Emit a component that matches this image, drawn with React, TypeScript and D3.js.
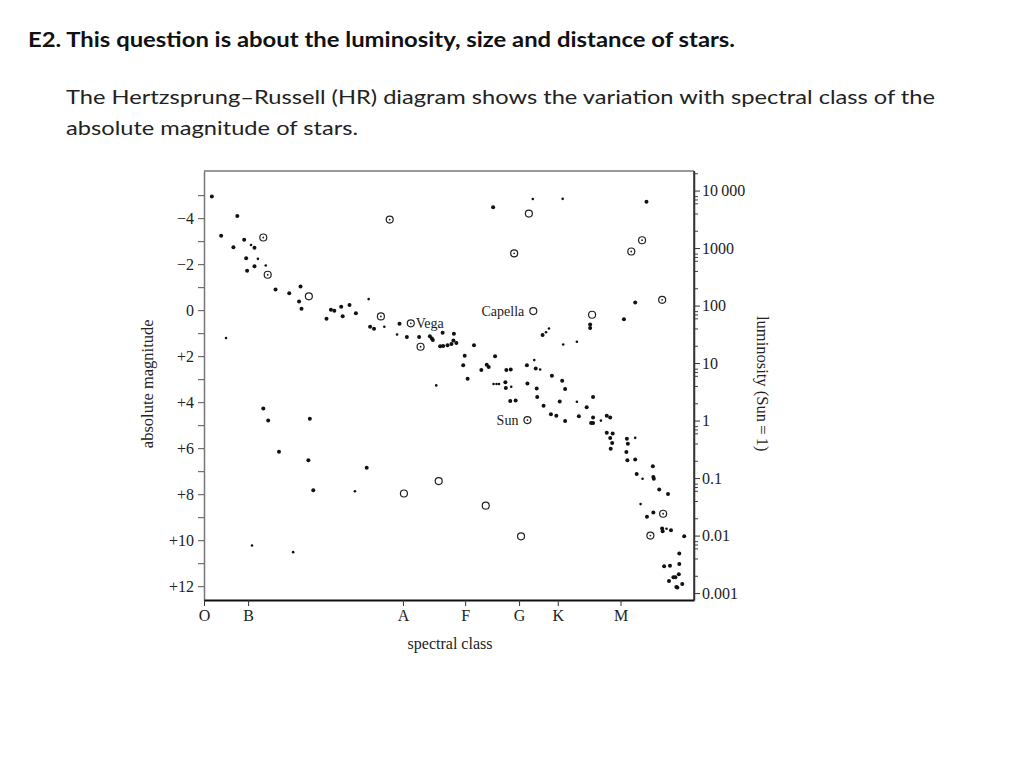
import React, { useRef, useEffect } from 'react';
import * as d3 from 'd3';

// star positions: [spectral position (O=0 .. right edge=100), absolute magnitude]
const filledStars: [number, number][] = [
  [1.6, -4.94], [6.8, -4.09], [3.5, -3.23], [6.0, -2.73], [8.2, -3.06], [10.3, -2.71],
  [8.6, -2.26], [10.3, -1.91], [8.8, -1.71], [14.6, -0.9], [17.4, -0.73], [19.7, -1.03],
  [19.4, -0.38], [19.9, -0.06], [25.0, 0.37], [25.9, -0.02], [26.6, 0.03], [28.0, -0.15],
  [28.3, 0.26], [29.7, -0.23], [31.0, 0.13], [33.9, 0.72], [34.7, 0.81], [39.9, 0.59],
  [41.4, 1.17], [43.9, 1.17], [46.1, 1.13], [46.5, 1.23], [46.7, 1.3], [48.7, 0.98],
  [51.0, 1.03], [50.9, 1.32], [51.5, 1.43], [48.2, 1.57], [48.8, 1.56], [49.7, 1.53],
  [50.5, 1.47], [55.1, 1.53], [53.2, 1.98], [52.9, 2.4], [59.4, 2.0], [56.6, 2.6],
  [57.7, 2.37], [58.1, 2.47], [53.8, 2.98], [61.5, 3.13], [61.6, 3.38], [61.7, 2.6],
  [62.6, 2.58], [65.9, 2.4], [67.7, 2.54], [69.1, 1.08], [71.0, 2.85], [66.0, 3.19],
  [67.9, 3.41], [68.0, 3.77], [62.5, 3.95], [63.6, 3.93], [69.3, 4.15], [70.8, 4.53],
  [71.9, 4.59], [73.7, 4.82], [73.1, 3.07], [73.7, 3.43], [72.6, 3.97], [79.4, 3.77],
  [78.1, 4.22], [76.5, 4.61], [79.4, 4.67], [79.0, 4.9], [79.4, 4.9], [82.2, 4.59],
  [82.9, 4.67], [82.2, 5.33], [83.4, 5.36], [82.9, 5.56], [83.3, 5.78], [83.0, 6.02],
  [86.3, 5.59], [86.5, 5.81], [86.2, 6.17], [86.4, 6.53], [88.0, 6.49], [91.6, 6.79],
  [88.3, 7.12], [91.7, 7.25], [91.8, 7.33], [92.9, 7.8], [94.7, 7.99], [90.4, 8.98],
  [91.7, 8.8], [93.5, 9.49], [93.6, 9.61], [95.3, 9.57], [98.0, 9.83], [97.0, 10.58],
  [93.9, 11.13], [95.1, 11.11], [97.0, 11.03], [96.9, 11.48], [95.8, 11.61], [96.2, 11.61],
  [94.9, 11.77], [97.6, 11.9], [96.4, 12.03], [96.6, 12.06],
  [59.0, -4.47], [90.3, -4.71], [88.0, -0.33], [78.8, 0.62], [78.8, 0.77], [85.7, 0.4],
  [12.1, 4.27], [13.1, 4.8], [21.6, 4.72], [15.3, 6.16], [21.3, 6.53], [33.2, 6.85], [22.3, 7.83]
];

const smallStars: [number, number][] = [
  [9.6, -2.83], [11.0, -2.23], [12.6, -1.94], [33.6, -0.48], [36.8, 0.72], [39.4, 1.06],
  [47.4, 3.27], [59.1, 3.21], [59.7, 3.21], [60.2, 3.21], [62.7, 3.33], [67.4, 2.17],
  [68.6, 2.58], [69.8, 0.96], [70.4, 0.8], [73.3, 1.49], [76.1, 1.37], [76.1, 3.98],
  [81.0, 4.8], [88.0, 5.55], [89.5, 7.33], [89.1, 8.43], [94.4, 9.5],
  [67.1, -4.83], [73.2, -4.84], [4.5, 1.21], [30.8, 7.87], [9.8, 10.23], [18.2, 10.52]
];

const openStars: [number, number][] = [
  [21.4, -0.6], [66.3, -4.2], [67.2, 0.04], [79.2, 0.2],
  [40.8, 7.97], [47.9, 7.43], [57.5, 8.5], [64.7, 9.83]
];

const dottedStars: [number, number][] = [
  [12.1, -3.16], [13.0, -1.54], [36.1, 0.27], [42.2, 0.57], [44.2, 1.59], [37.9, -3.94],
  [63.3, -2.47], [89.4, -3.04], [87.2, -2.55], [93.5, -0.45], [66.0, 4.78],
  [93.7, 8.85], [91.1, 9.8]
];

// named stars: [name, spectral position, magnitude, side]
const namedStars: [string, number, number, string][] = [
  ['Vega', 42.2, 0.57, 'right'],
  ['Capella', 67.2, 0.04, 'left'],
  ['Sun', 66.0, 4.78, 'left']
];

const magnitudeTicks = [-5, -4, -3, -2, -1, 0, 1, 2, 3, 4, 5, 6, 7, 8, 9, 10, 11, 12];
const magnitudeLabels = ['', '\u22124', '', '\u22122', '', '0', '', '+2', '', '+4', '', '+6', '', '+8', '', '+10', '', '+12'];

const spectralClasses = ['O', 'B', 'A', 'F', 'G', 'K', 'M'];
const spectralPositions = [0, 9, 40.6, 53.3, 64.3, 72.2, 85];

const luminosityTicks = [10000, 1000, 100, 10, 1, 0.1, 0.01, 0.001];
const luminosityLabels = ['10\u2009000', '1000', '100', '10', '1', '0.1', '0.01', '0.001'];
const luminosityMinor = [2, 4, 6, 7, 8];
const SUN_MAG = 4.8;

const HRDiagram = () => {
  const svgRef = useRef<SVGSVGElement>(null);

  useEffect(() => {
    const svg = d3.select(svgRef.current);
    svg.selectAll('*').remove();

    const left = 204, right = 694, top = 171, bottom = 600;
    const serif = '"Liberation Serif", "DejaVu Serif", serif';
    const sans = 'Lato, "Open Sans", sans-serif';

    // header text
    svg.append('text')
      .attr('x', 28).attr('y', 47)
      .attr('font-family', sans).attr('font-weight', 700).attr('font-size', 20)
      .attr('textLength', 707).attr('lengthAdjust', 'spacingAndGlyphs')
      .attr('fill', '#111')
      .text('E2. This question is about the luminosity, size and distance of stars.');

    svg.append('text')
      .attr('x', 66).attr('y', 104)
      .attr('font-family', sans).attr('font-size', 20)
      .attr('textLength', 869).attr('lengthAdjust', 'spacingAndGlyphs')
      .attr('fill', '#222')
      .text('The Hertzsprung\u2013Russell (HR) diagram shows the variation with spectral class of the');

    svg.append('text')
      .attr('x', 66).attr('y', 135)
      .attr('font-family', sans).attr('font-size', 20)
      .attr('textLength', 292).attr('lengthAdjust', 'spacingAndGlyphs')
      .attr('fill', '#222')
      .text('absolute magnitude of stars.');

    const xScale = d3.scaleLinear().domain([0, 100]).range([left, right]);
    const yScale = d3.scaleLinear().domain([-6.05, 12.6]).range([top, bottom]);
    const magToLum = (m: number) => Math.pow(10, (SUN_MAG - m) / 2.5);
    const lumScale = d3.scaleLog()
      .domain([magToLum(-6.05), magToLum(12.6)])
      .range([top, bottom]);

    // frame
    svg.append('line').attr('x1', left).attr('x2', right).attr('y1', top).attr('y2', top)
      .attr('stroke', '#777').attr('stroke-width', 1.5);
    svg.append('line').attr('x1', right).attr('x2', right).attr('y1', top).attr('y2', bottom)
      .attr('stroke', '#333').attr('stroke-width', 1.5);

    // left axis
    const yAxis = svg.append('g')
      .attr('transform', `translate(${left},0)`)
      .call(d3.axisLeft(yScale).tickValues(magnitudeTicks).tickSize(6).tickSizeOuter(0).tickPadding(4)
        .tickFormat((d, i) => magnitudeLabels[i]));
    yAxis.select('.domain').attr('stroke', '#777').attr('stroke-width', 1.5);
    yAxis.selectAll('.tick line').attr('stroke', '#555');
    yAxis.selectAll('text').attr('font-family', serif).attr('font-size', 16).attr('fill', '#222');

    // bottom axis
    const xAxis = svg.append('g')
      .attr('transform', `translate(0,${bottom})`)
      .call(d3.axisBottom(xScale).tickValues(spectralPositions).tickSize(6).tickSizeOuter(0).tickPadding(4)
        .tickFormat((d, i) => spectralClasses[i]));
    xAxis.select('.domain').attr('stroke', '#111').attr('stroke-width', 2);
    xAxis.selectAll('.tick line').attr('stroke', '#333');
    xAxis.selectAll('text').attr('font-family', serif).attr('font-size', 16).attr('fill', '#222');

    // right axis (luminosity)
    const minor: number[] = [];
    luminosityTicks.forEach(t => luminosityMinor.forEach(k => {
      const v = t * k;
      if (v < lumScale.domain()[0] && v > lumScale.domain()[1]) minor.push(v);
    }));
    const rMinor = svg.append('g')
      .attr('transform', `translate(${right},0)`)
      .call(d3.axisRight(lumScale).tickValues(minor).tickSize(4).tickSizeOuter(0).tickFormat(() => ''));
    rMinor.select('.domain').remove();
    rMinor.selectAll('.tick line').attr('stroke', '#444');

    const rAxis = svg.append('g')
      .attr('transform', `translate(${right},0)`)
      .call(d3.axisRight(lumScale).tickValues(luminosityTicks).tickSize(6).tickSizeOuter(0).tickPadding(2)
        .tickFormat((d, i) => luminosityLabels[i]));
    rAxis.select('.domain').attr('stroke', '#333').attr('stroke-width', 1.5);
    rAxis.selectAll('.tick line').attr('stroke', '#333');
    rAxis.selectAll('text').attr('font-family', serif).attr('font-size', 16).attr('fill', '#222');

    // axis titles
    svg.append('text')
      .attr('transform', `translate(450,649)`)
      .attr('text-anchor', 'middle')
      .attr('font-family', serif).attr('font-size', 16).attr('fill', '#222')
      .text('spectral class');

    svg.append('text')
      .attr('transform', `translate(153,${yScale(3.2)}) rotate(-90)`)
      .attr('text-anchor', 'middle')
      .attr('font-family', serif).attr('font-size', 16.5).attr('fill', '#222')
      .text('absolute magnitude');

    svg.append('text')
      .attr('transform', `translate(757,${yScale(3.2)}) rotate(90)`)
      .attr('text-anchor', 'middle')
      .attr('font-family', serif).attr('font-size', 16.5).attr('fill', '#222')
      .text('luminosity (Sun\u2009=\u20091)');

    // stars
    const g = svg.append('g');
    g.selectAll('circle.filled')
      .data(filledStars)
      .join('circle')
      .attr('class', 'filled')
      .attr('cx', d => xScale(d[0]))
      .attr('cy', d => yScale(d[1]))
      .attr('r', 2)
      .attr('fill', '#111');

    g.selectAll('circle.small')
      .data(smallStars)
      .join('circle')
      .attr('class', 'small')
      .attr('cx', d => xScale(d[0]))
      .attr('cy', d => yScale(d[1]))
      .attr('r', 1.3)
      .attr('fill', '#111');

    g.selectAll('circle.open')
      .data([...openStars, ...dottedStars])
      .join('circle')
      .attr('class', 'open')
      .attr('cx', d => xScale(d[0]))
      .attr('cy', d => yScale(d[1]))
      .attr('r', 3.5)
      .attr('fill', 'white')
      .attr('stroke', '#222')
      .attr('stroke-width', 1.2);

    g.selectAll('circle.centre')
      .data(dottedStars)
      .join('circle')
      .attr('class', 'centre')
      .attr('cx', d => xScale(d[0]))
      .attr('cy', d => yScale(d[1]))
      .attr('r', 0.9)
      .attr('fill', '#222');

    g.selectAll('text.name')
      .data(namedStars)
      .join('text')
      .attr('class', 'name')
      .attr('x', d => xScale(d[1]) + (d[3] === 'right' ? 5 : -9))
      .attr('y', d => yScale(d[2]) + 4.5)
      .attr('text-anchor', d => d[3] === 'right' ? 'start' : 'end')
      .attr('font-family', serif).attr('font-size', 14).attr('fill', '#222')
      .text(d => d[0]);
  }, []);

  return (
    <svg ref={svgRef} width={1024} height={768}
      style={{ position: 'absolute', left: 0, top: 0, background: 'white' }} />
  );
};

export default function App() {
  return <HRDiagram />;
}
